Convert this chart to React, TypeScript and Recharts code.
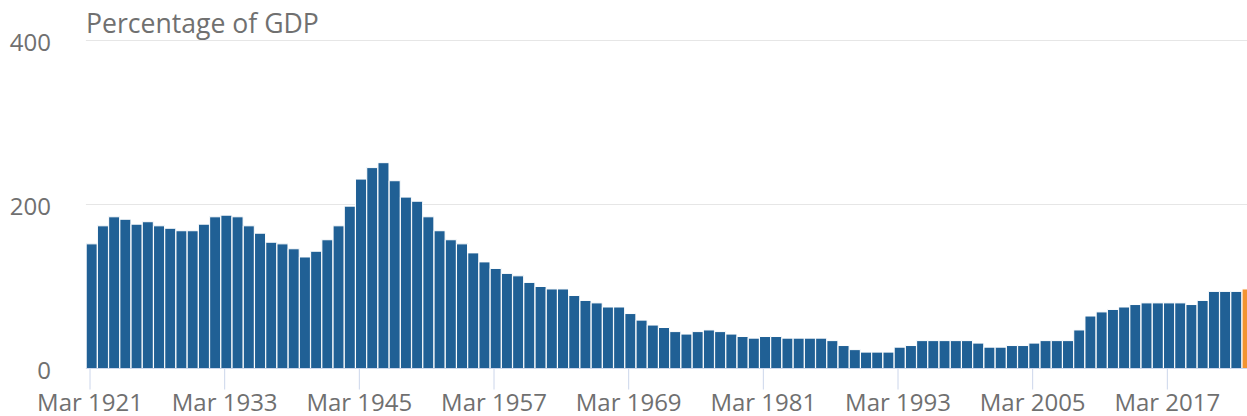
import React from 'react';
import { BarChart, Bar, XAxis, YAxis, CartesianGrid, Cell } from 'recharts';

const years = [
  1921, 1922, 1923, 1924, 1925, 1926, 1927, 1928, 1929, 1930,
  1931, 1932, 1933, 1934, 1935, 1936, 1937, 1938, 1939, 1940,
  1941, 1942, 1943, 1944, 1945, 1946, 1947, 1948, 1949, 1950,
  1951, 1952, 1953, 1954, 1955, 1956, 1957, 1958, 1959, 1960,
  1961, 1962, 1963, 1964, 1965, 1966, 1967, 1968, 1969, 1970,
  1971, 1972, 1973, 1974, 1975, 1976, 1977, 1978, 1979, 1980,
  1981, 1982, 1983, 1984, 1985, 1986, 1987, 1988, 1989, 1990,
  1991, 1992, 1993, 1994, 1995, 1996, 1997, 1998, 1999, 2000,
  2001, 2002, 2003, 2004, 2005, 2006, 2007, 2008, 2009, 2010,
  2011, 2012, 2013, 2014, 2015, 2016, 2017, 2018, 2019, 2020,
  2021, 2022, 2023, 2024,
];

const debtToGdp = [
  152, 174, 185, 182, 176, 179, 174, 171, 168, 168,
  176, 185, 187, 185, 174, 165, 154, 152, 146, 136,
  143, 157, 174, 198, 231, 245, 251, 229, 209, 204,
  185, 168, 157, 152, 141, 130, 122, 116, 113, 105,
  100, 97, 97, 89, 83, 80, 75, 75, 67, 59,
  53, 50, 45, 42, 45, 47, 45, 42, 39, 37,
  39, 39, 37, 37, 37, 37, 34, 28, 23, 20,
  20, 20, 26, 28, 34, 34, 34, 34, 34, 31,
  26, 26, 28, 28, 31, 34, 34, 34, 47, 64,
  69, 72, 75, 78, 80, 80, 80, 80, 78, 83,
  94, 94, 94, 97,
];

const yTicks = [0, 200, 400];
const axisTitle = 'Percentage of GDP';

const data = years.map((y, i) => ({ label: `Mar ${y}`, value: debtToGdp[i] }));

const FONT = "'Open Sans', sans-serif";
const TEXT = '#707070';
const BLUE = '#206095';
const ORANGE = '#f39431';
const AXIS = '#ccd6eb';

const XTick = (props: any) => {
  const { x, y, payload } = props;
  const tx = x - 1.5;
  return (
    <g>
      <line x1={tx} x2={tx} y1={y} y2={y + 21} stroke={AXIS} strokeWidth={1} />
      <text x={tx} y={y + 42} textAnchor="middle" fill={TEXT} fontSize={24} fontFamily={FONT}>
        {payload.value}
      </text>
    </g>
  );
};

const YTick = (props: any) => {
  const { x, y, payload } = props;
  return (
    <text x={x} y={y} dy={10.5} textAnchor="end" fill={TEXT} fontSize={24} fontFamily={FONT}>
      {payload.value}
    </text>
  );
};

export default function App() {
  return (
    <div
      style={{
        position: 'absolute',
        left: 0,
        top: 0,
        width: 1247,
        height: 416,
        overflow: 'hidden',
        background: '#ffffff',
      }}
    >
      <BarChart
        width={1253}
        height={416}
        data={data}
        margin={{ top: 40.5, right: 0, bottom: 0, left: 25.9 }}
        barCategoryGap={0.3}
      >
        <CartesianGrid vertical={false} stroke="#e6e6e6" strokeWidth={1} />
        <XAxis
          dataKey="label"
          interval={11}
          height={47.5}
          tickLine={false}
          tickSize={0}
          tickMargin={0}
          axisLine={{ stroke: AXIS, strokeWidth: 1 }}
          tick={<XTick />}
        />
        <YAxis
          domain={[0, 400]}
          ticks={yTicks}
          width={60}
          tickLine={false}
          axisLine={false}
          tickSize={0}
          tickMargin={34.9}
          tick={<YTick />}
        />
        <Bar dataKey="value" isAnimationActive={false} stroke="#ffffff" strokeWidth={1}>
          {data.map((d, i) => (
            <Cell key={d.label} fill={i === data.length - 1 ? ORANGE : BLUE} />
          ))}
        </Bar>
      </BarChart>
      <svg
        width={600}
        height={40}
        style={{ position: 'absolute', left: 0, top: 0, pointerEvents: 'none' }}
      >
        <text x={86} y={32.5} fill={TEXT} fontSize={26.6} fontFamily={FONT}>
          {axisTitle}
        </text>
      </svg>
    </div>
  );
}
